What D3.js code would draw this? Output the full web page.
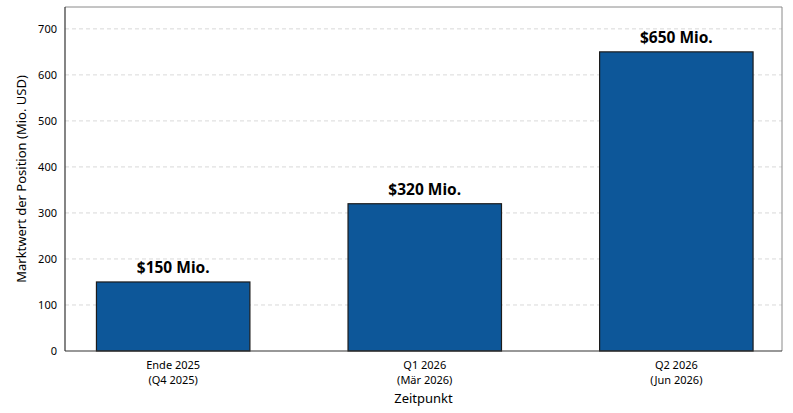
<!DOCTYPE html>
<meta charset="utf-8">
<script src="https://cdn.jsdelivr.net/npm/d3@7"></script>
<style>
  body { margin: 0; background: #fff; }
  svg text { font-family: "Noto Sans", "Open Sans", sans-serif; fill: #000; }
  .grid line { stroke: #cfcfcf; stroke-width: 0.8; stroke-dasharray: 4 3; }
  .tick-label { font-size: 11px; }
  .axis-label { font-size: 13px; }
  .bar-label { font-size: 15.5px; font-weight: bold; }
</style>
<body>
<div id="chart"></div>
<script>
// data
const categories = [["Ende 2025", "(Q4 2025)"], ["Q1 2026", "(Mär 2026)"], ["Q2 2026", "(Jun 2026)"]];
const values = [150, 320, 650];
const barLabels = ["$150 Mio.", "$320 Mio.", "$650 Mio."];
const yTicks = [0, 100, 200, 300, 400, 500, 600, 700];

const W = 793, H = 413;
const pLeft = 65, pRight = 782, pTop = 7, pBottom = 351;

const svg = d3.select("#chart").append("svg")
    .attr("width", W).attr("height", H);

const x = d3.scaleLinear().domain([-0.43, 2.42]).range([pLeft, pRight]);
const y = d3.scaleLinear().domain([0, 650 * 1.15]).range([pBottom, pTop]);
const barW = 0.61;

// grid
svg.append("g").attr("class", "grid")
  .selectAll("line").data(yTicks.filter(d => d > 0)).enter()
  .append("line")
    .attr("x1", pLeft).attr("x2", pRight)
    .attr("y1", d => y(d)).attr("y2", d => y(d));

// frame: top/right light, left/bottom dark
svg.append("line").attr("x1", pLeft).attr("x2", pRight).attr("y1", pTop).attr("y2", pTop)
  .attr("stroke", "#8a8a8a").attr("stroke-width", 1);
svg.append("line").attr("x1", pRight).attr("x2", pRight).attr("y1", pTop).attr("y2", pBottom)
  .attr("stroke", "#8a8a8a").attr("stroke-width", 1);

// bars
svg.selectAll("rect.bar").data(values).enter()
  .append("rect").attr("class", "bar")
    .attr("x", (d, i) => x(i - barW / 2))
    .attr("width", x(barW) - x(0))
    .attr("y", d => y(d))
    .attr("height", d => y(0) - y(d))
    .attr("fill", "#0d5799")
    .attr("stroke", "#1c1c1c")
    .attr("stroke-width", 1.2);

svg.append("line").attr("x1", pLeft).attr("x2", pLeft).attr("y1", pTop).attr("y2", pBottom)
  .attr("stroke", "#333").attr("stroke-width", 1.2);
svg.append("line").attr("x1", pLeft).attr("x2", pRight).attr("y1", pBottom).attr("y2", pBottom)
  .attr("stroke", "#333").attr("stroke-width", 1.2);

// bar labels
svg.selectAll("text.bar-label").data(values).enter()
  .append("text").attr("class", "bar-label")
    .attr("x", (d, i) => x(i))
    .attr("y", d => y(d) - 9)
    .attr("text-anchor", "middle")
    .text((d, i) => barLabels[i]);

// y tick labels
svg.selectAll("text.ytick").data(yTicks).enter()
  .append("text").attr("class", "tick-label")
    .attr("x", pLeft - 8)
    .attr("y", d => y(d))
    .attr("dy", "0.35em")
    .attr("text-anchor", "end")
    .text(d => d);

// x tick labels
const xt = svg.selectAll("text.xtick").data(categories).enter()
  .append("text").attr("class", "tick-label")
    .attr("text-anchor", "middle");
xt.append("tspan").attr("x", (d, i) => x(i)).attr("y", pBottom + 18).text(d => d[0]);
xt.append("tspan").attr("x", (d, i) => x(i)).attr("y", pBottom + 33).text(d => d[1]);

// axis titles
svg.append("text").attr("class", "axis-label")
  .attr("x", (pLeft + pRight) / 2).attr("y", 403)
  .attr("text-anchor", "middle").text("Zeitpunkt");
svg.append("text").attr("class", "axis-label")
  .attr("transform", "translate(26," + ((pTop + pBottom) / 2) + ") rotate(-90)")
  .attr("text-anchor", "middle").text("Marktwert der Position (Mio. USD)");
</script>
</body>
